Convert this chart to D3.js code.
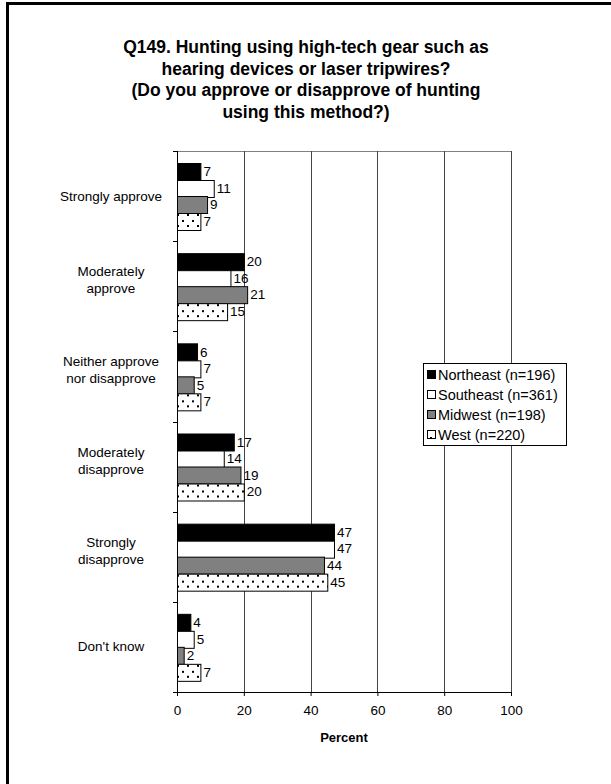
<!DOCTYPE html>
<html>
<head>
<meta charset="utf-8">
<script src="https://cdn.jsdelivr.net/npm/d3@7"></script>
<style>
  body { margin: 0; background: #fff; }
  text { font-family: "Liberation Sans", Arial, sans-serif; }
</style>
</head>
<body>
<div id="chart"></div>
<script>
// chart data
var categories = [["Strongly approve"], ["Moderately", "approve"], ["Neither approve", "nor disapprove"],
                  ["Moderately", "disapprove"], ["Strongly", "disapprove"], ["Don't know"]];
var seriesNames = ["Northeast (n=196)", "Southeast (n=361)", "Midwest (n=198)", "West (n=220)"];
var northeast = [7, 20, 6, 17, 47, 4];
var southeast = [11, 16, 7, 14, 47, 5];
var midwest = [9, 21, 5, 19, 44, 2];
var west = [7, 15, 7, 20, 45, 7];
var xTicks = [0, 20, 40, 60, 80, 100];
var titleLines = ["Q149. Hunting using high-tech gear such as", "hearing devices or laser tripwires?",
                  "(Do you approve or disapprove of hunting", "using this method?)"];

var series = [northeast, southeast, midwest, west];
var fills = ["#000", "#fff", "#808080", "url(#dots)"];

var svg = d3.select("#chart").append("svg")
    .attr("width", 611)
    .attr("height", 784);

// dotted pattern for West
var pat = svg.append("defs").append("pattern")
    .attr("id", "dots")
    .attr("patternUnits", "userSpaceOnUse")
    .attr("width", 10)
    .attr("height", 11);
pat.append("rect").attr("width", 10).attr("height", 11).attr("fill", "#fff");
pat.append("rect").attr("x", 2).attr("y", 3).attr("width", 2).attr("height", 2).attr("fill", "#000");
pat.append("rect").attr("x", 7).attr("y", 8).attr("width", 2).attr("height", 2).attr("fill", "#000");

// outer frame
svg.append("rect")
    .attr("x", 7.5).attr("y", 3.5)
    .attr("width", 640).attr("height", 820)
    .attr("fill", "none").attr("stroke", "#000").attr("stroke-width", 3);

// title
svg.append("g").selectAll("text")
    .data(titleLines)
    .enter().append("text")
    .attr("x", 306)
    .attr("y", function (d, i) { return 53 + i * 21.5; })
    .attr("text-anchor", "middle")
    .style("font-size", "17.5px")
    .style("font-weight", "bold")
    .text(function (d) { return d; });

var plotL = 177, plotR = 511, plotT = 151, plotB = 692;

var x = d3.scaleLinear().domain([0, 100]).range([plotL, plotR]);
var y = d3.scaleBand().domain(d3.range(categories.length)).range([plotT, plotB]);
var inner = d3.scaleBand().domain(d3.range(series.length))
    .range([0, y.bandwidth()]).paddingOuter(0.73);

// gridlines
svg.append("line")
    .attr("x1", plotL).attr("x2", plotR).attr("y1", plotT + 0.5).attr("y2", plotT + 0.5)
    .attr("stroke", "#808080");
svg.append("g").selectAll("line")
    .data(xTicks.slice(1))
    .enter().append("line")
    .attr("x1", function (d) { return Math.round(x(d)) + 0.5; })
    .attr("x2", function (d) { return Math.round(x(d)) + 0.5; })
    .attr("y1", plotT).attr("y2", plotB)
    .attr("stroke", "#444");

// bars
var groups = svg.append("g").selectAll("g")
    .data(categories)
    .enter().append("g")
    .attr("transform", function (d, i) { return "translate(0," + y(i) + ")"; });

groups.each(function (cat, ci) {
    var g = d3.select(this);
    series.forEach(function (s, si) {
        g.append("rect")
            .attr("x", x(0) + 0.5)
            .attr("y", Math.round(inner(si)) + 0.5)
            .attr("width", x(s[ci]) - x(0))
            .attr("height", Math.round(inner.bandwidth()))
            .attr("fill", fills[si])
            .attr("stroke", "#000")
            .attr("stroke-width", 1);
        g.append("text")
            .attr("x", x(s[ci]) + 3)
            .attr("y", inner(si) + inner.bandwidth() / 2 + 5)
            .style("font-size", "13.5px")
            .text(s[ci]);
    });
});

// x axis
var xAxis = svg.append("g")
    .attr("transform", "translate(0," + plotB + ")")
    .call(d3.axisBottom(x).tickValues(xTicks).tickSize(4).tickPadding(9));
xAxis.select(".domain").attr("d", "M" + (plotL - 4) + ",0.5H" + plotR).attr("stroke", "#000");
xAxis.selectAll("text").style("font-size", "13.5px").style("font-family", "Liberation Sans, Arial, sans-serif");

svg.append("text")
    .attr("x", x(50)).attr("y", 742)
    .attr("text-anchor", "middle")
    .style("font-size", "13px").style("font-weight", "bold")
    .text("Percent");

// y axis
svg.append("line")
    .attr("x1", plotL + 0.5).attr("x2", plotL + 0.5).attr("y1", plotT).attr("y2", plotB)
    .attr("stroke", "#000");
svg.append("g").selectAll("line")
    .data(d3.range(categories.length + 1))
    .enter().append("line")
    .attr("x1", plotL - 4).attr("x2", plotL)
    .attr("y1", function (d) { return Math.round(plotT + d * y.step()) + 0.5; })
    .attr("y2", function (d) { return Math.round(plotT + d * y.step()) + 0.5; })
    .attr("stroke", "#000");

// category labels (two-line labels sit a little above the band middle)
groups.each(function (cat) {
    var g = d3.select(this);
    var cy = y.bandwidth() / 2 - (cat.length - 1) * 8.5 + 4.5 - (cat.length - 1) * 6;
    cat.forEach(function (line, li) {
        g.append("text")
            .attr("x", 111)
            .attr("y", cy + li * 17)
            .attr("text-anchor", "middle")
            .style("font-size", "13.5px")
            .text(line);
    });
});

// legend
var legend = svg.append("g").attr("transform", "translate(423,363)");
legend.append("rect")
    .attr("x", 0.5).attr("y", 0.5).attr("width", 143).attr("height", 82)
    .attr("fill", "#fff").attr("stroke", "#000");
seriesNames.forEach(function (name, i) {
    legend.append("rect")
        .attr("x", 4.5).attr("y", 7.5 + i * 20)
        .attr("width", 8).attr("height", 8)
        .attr("fill", fills[i]).attr("stroke", "#000");
    legend.append("text")
        .attr("x", 15).attr("y", 17 + i * 20)
        .style("font-size", "14.5px")
        .text(name);
});
</script>
</body>
</html>
